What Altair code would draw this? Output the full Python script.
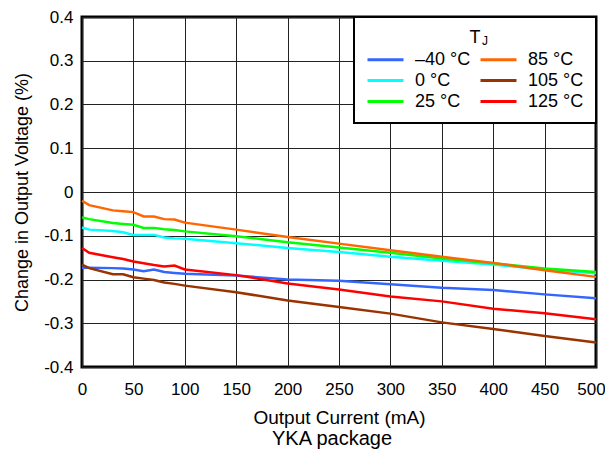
import altair as alt
import pandas as pd

current_ma = [0, 7, 30, 40, 50, 60, 70, 80, 90, 100, 150, 200, 250, 300, 350, 400, 450, 500]

labels = ["–40 °C", "0 °C", "25 °C", "85 °C", "105 °C", "125 °C"]
colors = ["#3366FF", "#00FFFF", "#00FF00", "#FF6600", "#993300", "#FF0000"]

t_m40 = [-0.173, -0.173, -0.174, -0.175, -0.177, -0.181, -0.177, -0.183, -0.185, -0.187,
         -0.191, -0.200, -0.203, -0.211, -0.219, -0.224, -0.234, -0.243]
t_0 = [-0.081, -0.086, -0.089, -0.092, -0.098, -0.098, -0.098, -0.104, -0.106, -0.107,
       -0.117, -0.128, -0.137, -0.148, -0.157, -0.166, -0.177, -0.186]
t_25 = [-0.058, -0.062, -0.071, -0.073, -0.075, -0.082, -0.082, -0.085, -0.087, -0.090,
        -0.101, -0.115, -0.127, -0.139, -0.152, -0.163, -0.175, -0.183]
t_85 = [-0.020, -0.030, -0.042, -0.044, -0.046, -0.056, -0.056, -0.062, -0.063, -0.070,
        -0.086, -0.103, -0.118, -0.133, -0.148, -0.162, -0.179, -0.194]
t_105 = [-0.166, -0.174, -0.188, -0.188, -0.195, -0.198, -0.201, -0.207, -0.210, -0.214,
         -0.229, -0.248, -0.263, -0.278, -0.298, -0.313, -0.329, -0.344]
t_125 = [-0.128, -0.139, -0.149, -0.153, -0.159, -0.163, -0.167, -0.170, -0.168, -0.177,
         -0.190, -0.209, -0.223, -0.239, -0.250, -0.267, -0.277, -0.291]

series = {
    "–40 °C": t_m40,
    "0 °C": t_0,
    "25 °C": t_25,
    "85 °C": t_85,
    "105 °C": t_105,
    "125 °C": t_125,
}

rows = []
for name, vals in series.items():
    for x, v in zip(current_ma, vals):
        rows.append({"current": x, "change": v, "tj": name})
df = pd.DataFrame(rows)

x_ticks = [0, 50, 100, 150, 200, 250, 300, 350, 400, 450, 500]
y_ticks = [-0.4, -0.3, -0.2, -0.1, 0, 0.1, 0.2, 0.3, 0.4]
caption = "YKA package"

FONT = "Liberation Sans"

lines = alt.Chart(df).mark_line(strokeWidth=2.5).encode(
    x=alt.X("current:Q", title="Output Current (mA)",
            scale=alt.Scale(domain=[0, 500], nice=False),
            axis=alt.Axis(values=x_ticks, labelFlush=False, labelPadding=14,
                          labelOffset={"condition": {"test": "datum.value == 500", "value": -5}, "value": 0},
                          titlePadding=11, titleFontSize=19)),
    y=alt.Y("change:Q", title="Change in Output Voltage (%)",
            scale=alt.Scale(domain=[-0.4, 0.4], nice=False),
            axis=alt.Axis(values=y_ticks, labelFlush=False, labelPadding=9,
                          titlePadding=12,
                          labelExpr="abs(datum.value) < 1e-9 ? '0' : (datum.value < 0 ? '-' : '') + format(abs(datum.value), '.1f')")),
    color=alt.Color("tj:N", scale=alt.Scale(domain=labels, range=colors),
                    legend=alt.Legend(title="T", columns=2, orient="none",
                                      legendX=272, legendY=0,
                                      symbolType="M-1.8,0H1.8", symbolSize=400,
                                      symbolOffset=8,
                                      symbolStrokeWidth=3, labelOffset=18,
                                      columnPadding=3, rowPadding=0,
                                      padding=12, titleAnchor="middle",
                                      titlePadding=1,
                                      fillColor="white", strokeColor="black")),
    order=alt.Order("current:Q"),
)

cap = alt.Chart(pd.DataFrame({"t": [caption]})).mark_text(
    font=FONT, fontSize=20, align="center", baseline="alphabetic", color="black"
).encode(x=alt.value(250), y=alt.value(428), text="t:N")

chart = alt.layer(lines, cap).properties(
    width=514, height=350,
    padding={"left": 74, "top": 9, "right": 9, "bottom": 82},
    autosize=alt.AutoSizeParams(type="none"),
    title=alt.TitleParams("J", orient="top", frame="group",
                          anchor="start", fontSize=12, font=FONT,
                          fontWeight="normal", offset=0, dx=400, dy=49,
                          baseline="alphabetic", color="black"),
).configure_view(stroke="black", strokeWidth=3).configure_axis(
    grid=True, gridColor="#222222", gridWidth=1, ticks=False, domain=False,
    labelFont=FONT, labelFontSize=17, labelColor="black",
    titleFont=FONT, titleFontSize=18, titleFontWeight="normal", titleColor="black",
).configure_legend(
    labelFont=FONT, labelFontSize=18, labelColor="black",
    titleFont=FONT, titleFontSize=18, titleFontWeight="normal", titleColor="black",
    strokeWidth=2,
)

chart.save("out.html", embed_options={"renderer": "svg", "actions": False})
